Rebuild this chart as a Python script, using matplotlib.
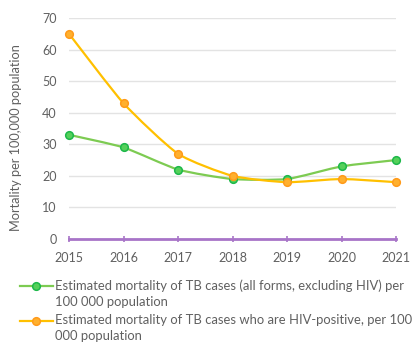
import matplotlib
matplotlib.use('Agg')
from matplotlib import pyplot as plt
from matplotlib.path import Path
from matplotlib.patches import PathPatch
from matplotlib.lines import Line2D
import numpy as np

years = [2015, 2016, 2017, 2018, 2019, 2020, 2021]
mortality_excl_hiv = [33, 29, 22, 19, 19, 23, 25]
mortality_hiv_pos = [65, 43, 27, 20, 18, 19, 18]
label_excl_hiv = "Estimated mortality of TB cases (all forms, excluding HIV) per\n100 000 population"
label_hiv_pos = "Estimated mortality of TB cases who are HIV-positive, per 100\n000 population"
y_label = "Mortality per 100,000 population"

GREEN_LINE = '#7DCB52'
GREEN_FACE = '#55D05A'
GREEN_EDGE = '#1DB84A'
ORANGE_LINE = '#FFC000'
ORANGE_FACE = '#FFB02E'
ORANGE_EDGE = '#FF9A1A'
PURPLE = '#A874C8'
TEXT = '#606060'

plt.rcParams['font.family'] = ['Lato', 'DejaVu Sans']


def smooth_path(x, y, k=10.0):
    # mild bezier smoothing through the points, like a spreadsheet "smoothed line"
    x = np.asarray(x, float)
    y = np.asarray(y, float)
    verts = [(x[0], y[0])]
    codes = [Path.MOVETO]
    n = len(x)
    for i in range(n - 1):
        x0, y0 = (x[i - 1], y[i - 1]) if i > 0 else (x[i], y[i])
        x3, y3 = (x[i + 2], y[i + 2]) if i + 2 < n else (x[i + 1], y[i + 1])
        c1 = (x[i] + (x[i + 1] - x0) / k, y[i] + (y[i + 1] - y0) / k)
        c2 = (x[i + 1] - (x3 - x[i]) / k, y[i + 1] - (y3 - y[i]) / k)
        verts += [c1, c2, (x[i + 1], y[i + 1])]
        codes += [Path.CURVE4] * 3
    return Path(verts, codes)


fig = plt.figure(figsize=(4.14, 3.45), dpi=100)
ax = fig.add_axes([69 / 414, 1 - 239 / 345, (396 - 69) / 414, (239 - 18) / 345])

series = [
    (mortality_excl_hiv, GREEN_LINE, GREEN_FACE, GREEN_EDGE),
    (mortality_hiv_pos, ORANGE_LINE, ORANGE_FACE, ORANGE_EDGE),
]
for values, lc, fc, ec in series:
    ax.add_patch(PathPatch(smooth_path(years, values), facecolor='none',
                           edgecolor=lc, lw=1.6, zorder=3, capstyle='round'))
    ax.plot(years, values, ls='none', marker='o', ms=5.5, mfc=fc, mec=ec,
            mew=1.1, zorder=4, clip_on=False)

ax.set_xlim(2015, 2021)
ax.set_ylim(0, 70)
ax.set_yticks(range(0, 71, 10))
ax.set_xticks(years)
ax.grid(axis='y', color='#E3E3E3', lw=1)
ax.set_axisbelow(True)
for side in ['top', 'right', 'left']:
    ax.spines[side].set_visible(False)
ax.spines['bottom'].set_color(PURPLE)
ax.spines['bottom'].set_linewidth(2)
ax.tick_params(axis='y', length=0, pad=9, labelsize=9, labelcolor=TEXT)
ax.tick_params(axis='x', direction='inout', length=4, width=1.2, color=PURPLE,
               pad=7, labelsize=9, labelcolor=TEXT)
ax.set_ylabel(y_label, fontsize=9.2, color=TEXT)
ax.yaxis.set_label_coords(-47 / 327, 0.46)

# legend below the plot
for ypix, lc, fc, ec, text in [
    (286, GREEN_LINE, GREEN_FACE, GREEN_EDGE, label_excl_hiv),
    (321, ORANGE_LINE, ORANGE_FACE, ORANGE_EDGE, label_hiv_pos),
]:
    yf = 1 - ypix / 345
    fig.add_artist(Line2D([20 / 414, 53 / 414], [yf, yf], color=lc, lw=1.6))
    fig.add_artist(Line2D([36.5 / 414], [yf], marker='o', ms=5.5, mfc=fc, mec=ec, mew=1.1))
    fig.text(55 / 414, yf + 7 / 345, text, fontsize=9.4, color=TEXT, va='top',
             linespacing=1.45)

fig.savefig('out.png', dpi=100)
